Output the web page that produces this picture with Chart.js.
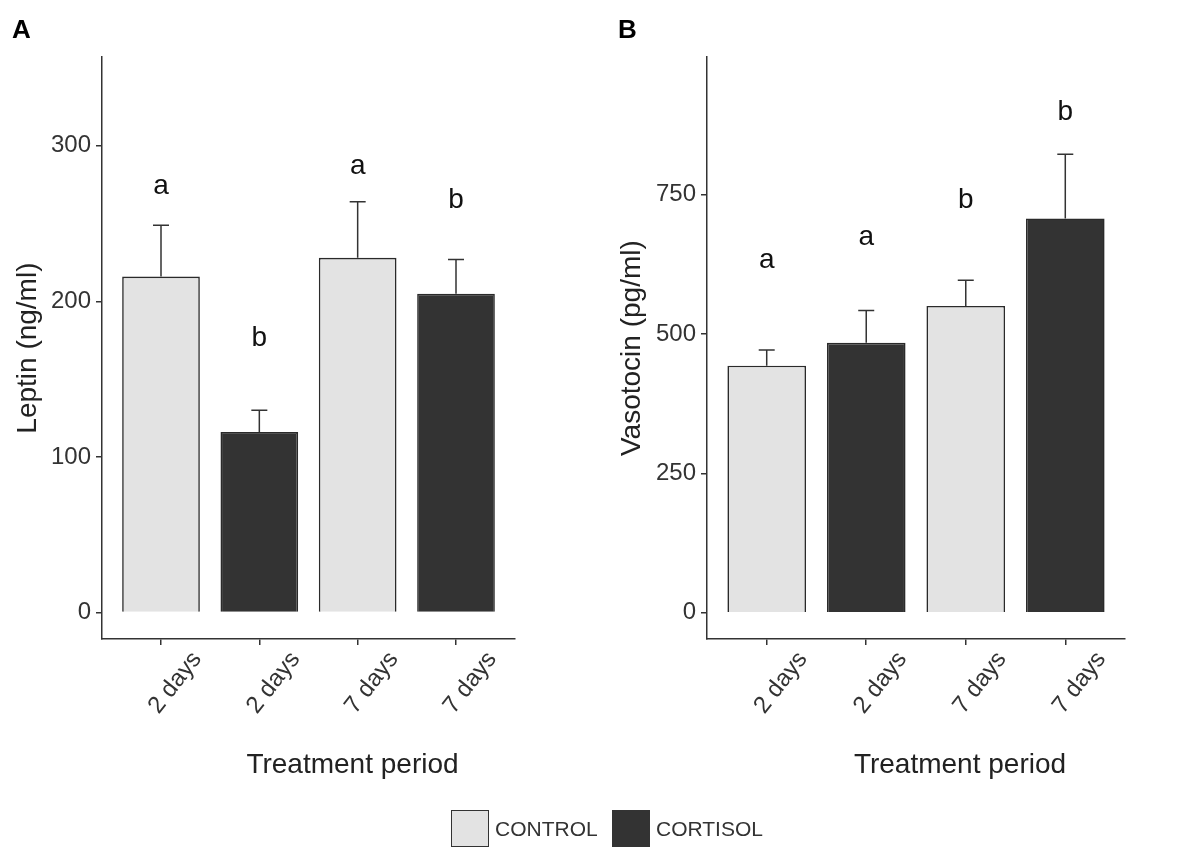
<!DOCTYPE html>
<html>
<head>
<meta charset="utf-8">
<script src="https://cdn.jsdelivr.net/npm/chart.js@4.4.1/dist/chart.umd.min.js"></script>
<style>
  html, body { margin: 0; padding: 0; background: #fff; }
  body { width: 1194px; height: 848px; position: relative; overflow: hidden;
         font-family: "Liberation Sans", Arial, sans-serif; }
  .panel { position: absolute; top: 0; }
  #legend { position: absolute; top: 810px; left: 451px; height: 37px; }
  .key { position: absolute; top: 0; width: 36px; height: 35px; border: 1px solid #333; }
  .lab { position: absolute; top: 0; line-height: 37px; font-size: 21px; color: #333; white-space: nowrap; }
</style>
</head>
<body>
<canvas id="chartA" class="panel" style="left:0" width="597" height="848"></canvas>
<canvas id="chartB" class="panel" style="left:597px" width="597" height="848"></canvas>
<div id="legend"></div>
<script>
// categories
const periods = ['2 days', '2 days', '7 days', '7 days'];
const groups = ['CONTROL', 'CORTISOL', 'CONTROL', 'CORTISOL'];
const groupNames = ['CONTROL', 'CORTISOL'];

// panel A - leptin
const leptinMean = [216, 116, 228, 205];
const leptinUpper = [249, 130, 264, 227];
const leptinLetters = ['a', 'b', 'a', 'b'];
const leptinLetterAt = [274, 176, 287, 265];
const leptinTicks = [0, 100, 200, 300];

// panel B - vasotocin
const vasoMean = [443, 484, 550, 707];
const vasoUpper = [471, 542, 596, 822];
const vasoLetters = ['a', 'a', 'b', 'b'];
const vasoLetterAt = [632, 674, 740, 898];
const vasoTicks = [0, 250, 500, 750];

const fill = { CONTROL: '#e3e3e3', CORTISOL: '#333333' };
const FONT = '"Liberation Sans", Arial, sans-serif';

// legend
const legend = document.getElementById('legend');
const keyX = [0, 161];
groupNames.forEach((g, i) => {
  const k = document.createElement('div');
  k.className = 'key';
  k.style.left = keyX[i] + 'px';
  k.style.background = fill[g];
  legend.appendChild(k);
  const t = document.createElement('div');
  t.className = 'lab';
  t.style.left = (keyX[i] + 44) + 'px';
  t.textContent = g;
  legend.appendChild(t);
});

// error bars, significance letters, x title (sits right of axis centre in the original)
const marks = {
  id: 'marks',
  afterDatasetsDraw(chart, args, opts) {
    const { ctx, scales: { x, y } } = chart;
    const bars = chart.getDatasetMeta(0).data;
    ctx.save();
    ctx.strokeStyle = '#333';
    ctx.lineWidth = 1.5;
    opts.upper.forEach((v, i) => {
      const px = bars[i].x;
      const top = y.getPixelForValue(v);
      ctx.beginPath();
      ctx.moveTo(px, bars[i].y);
      ctx.lineTo(px, top);
      ctx.moveTo(px - 8, top);
      ctx.lineTo(px + 8, top);
      ctx.stroke();
    });
    ctx.fillStyle = '#111';
    ctx.font = '28px ' + FONT;
    ctx.textAlign = 'center';
    ctx.textBaseline = 'middle';
    opts.letters.forEach((t, i) => {
      ctx.fillText(t, x.getPixelForValue(i + 1), y.getPixelForValue(opts.letterAt[i]));
    });
    ctx.fillStyle = '#222';
    ctx.fillText('Treatment period', (x.left + x.right) / 2 + 44, 765);
    ctx.restore();
  }
};

function panel(id, cfg) {
  return new Chart(document.getElementById(id), {
    type: 'bar',
    data: {
      datasets: [{
        data: cfg.mean.map((v, i) => ({ x: i + 1, y: v })),
        backgroundColor: groups.map(g => fill[g]),
        borderColor: '#2a2a2a',
        borderWidth: 1.6,
        barPercentage: 0.79,
        categoryPercentage: 1
      }]
    },
    options: {
      responsive: false,
      animation: false,
      layout: { padding: { left: cfg.padLeft, right: cfg.padRight, top: 0, bottom: 0 } },
      plugins: {
        legend: { display: false },
        tooltip: { enabled: false },
        title: {
          display: true, text: cfg.tag, align: 'start', color: '#000',
          font: { family: FONT, size: 26, weight: 'bold' },
          padding: { top: 15, bottom: 11 }
        },
        marks: { upper: cfg.upper, letters: cfg.letters, letterAt: cfg.letterAt }
      },
      scales: {
        x: {
          type: 'linear', min: 0.4, max: 4.6, offset: false,
          afterBuildTicks: s => { s.ticks = periods.map((p, i) => ({ value: i + 1 })); },
          afterFit: s => { s.height = 209; },
          ticks: {
            callback: v => periods[v - 1],
            minRotation: 52, maxRotation: 52,
            color: '#333', padding: 1, labelOffset: 36,
            font: { family: FONT, size: 24 }
          },
          grid: { drawOnChartArea: false, drawTicks: true, tickLength: 6, color: '#333', lineWidth: 1.5, offset: false },
          border: { display: true, color: '#333', width: 1.5 },
          title: { display: false }
        },
        y: {
          min: cfg.min, max: cfg.max,
          afterBuildTicks: s => { s.ticks = cfg.ticks.map(v => ({ value: v })); },
          afterFit: s => { s.width = cfg.axisWidth; },
          ticks: { color: '#333', padding: 5, font: { family: FONT, size: 24 } },
          grid: { drawOnChartArea: false, drawTicks: true, tickLength: 6, color: '#333', lineWidth: 1.5 },
          border: { display: true, color: '#333', width: 1.5 },
          title: {
            display: true, text: cfg.yTitle, color: '#222',
            font: { family: FONT, size: 28, lineHeight: 1 },
            padding: { top: cfg.titlePad, bottom: 0 }
          }
        }
      }
    },
    plugins: [marks]
  });
}

panel('chartA', {
  tag: 'A', yTitle: 'Leptin (ng/ml)',
  mean: leptinMean, upper: leptinUpper, letters: leptinLetters, letterAt: leptinLetterAt,
  ticks: leptinTicks, min: -17, max: 357,
  padLeft: 12, padRight: 82, axisWidth: 90, titlePad: 2
});

panel('chartB', {
  tag: 'B', yTitle: 'Vasotocin (pg/ml)',
  mean: vasoMean, upper: vasoUpper, letters: vasoLetters, letterAt: vasoLetterAt,
  ticks: vasoTicks, min: -47, max: 996,
  padLeft: 21, padRight: 69, axisWidth: 89, titlePad: 0
});
</script>
</body>
</html>
